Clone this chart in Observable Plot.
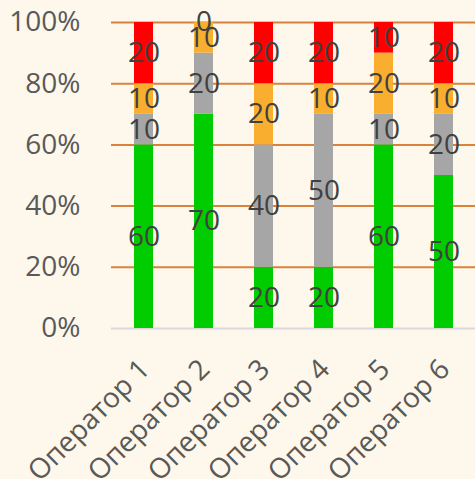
<!DOCTYPE html>
<html><head><meta charset="utf-8">
<script src="https://cdn.jsdelivr.net/npm/d3@7"></script>
<script src="https://cdn.jsdelivr.net/npm/@observablehq/plot@0.6"></script>
<style>
html,body{margin:0;padding:0;background:#fdf7ec;}
</style></head><body>
<div id="chart"></div>
<script>
const operators = ["Оператор 1","Оператор 2","Оператор 3","Оператор 4","Оператор 5","Оператор 6"];
const seriesNames = ["s1","s2","s3","s4"];
const seriesColors = ["#00cc00","#a6a6a6","#f9ae2f","#ff0000"];
const s1 = [60,70,20,20,60,50];
const s2 = [10,20,40,50,10,20];
const s3 = [10,10,20,10,20,10];
const s4 = [20,0,20,20,10,20];
const yTicks = [0,20,40,60,80,100];

const seriesVals = [s1,s2,s3,s4];
const data = [];
seriesNames.forEach((s,i)=>operators.forEach((op,j)=>data.push({op, series:s, value:seriesVals[i][j]})));

const font = "'Open Sans', sans-serif";
const fs = 28;
const chart = Plot.plot({
  width: 475, height: 479,
  marginTop: 22, marginBottom: 151, marginLeft: 111, marginRight: 0,
  style: {background: "#fdf7ec", fontFamily: font},
  x: {domain: operators, paddingInner: 0.69, paddingOuter: 0.345, label: null},
  y: {domain: [0,100], label: null},
  color: {domain: seriesNames, range: seriesColors},
  marks: [
    Plot.ruleY(yTicks.filter(d=>d>0), {stroke:"#d9823b", strokeWidth:2}),
    Plot.ruleY([0], {stroke:"#d9d9d9", strokeWidth:2}),
    Plot.barY(data, {x:"op", y:"value", fill:"series"}),
    Plot.text(data, Plot.stackY({x:"op", y:"value", z:"series", text: d=>String(d.value), fill:"#404040", fontSize:fs, fontFamily:font})),
    Plot.axisY({ticks: yTicks, tickSize:0, tickPadding:31, tickFormat: d=>d+"%", fontSize:fs, fill:"#595959", fontFamily:font}),
    Plot.axisX({tickSize:0, tickPadding:36, dx:1, tickRotate:-45, fontSize:fs, fill:"#595959", fontFamily:font})
  ]
});
document.getElementById("chart").appendChild(chart);
</script>
</body></html>
